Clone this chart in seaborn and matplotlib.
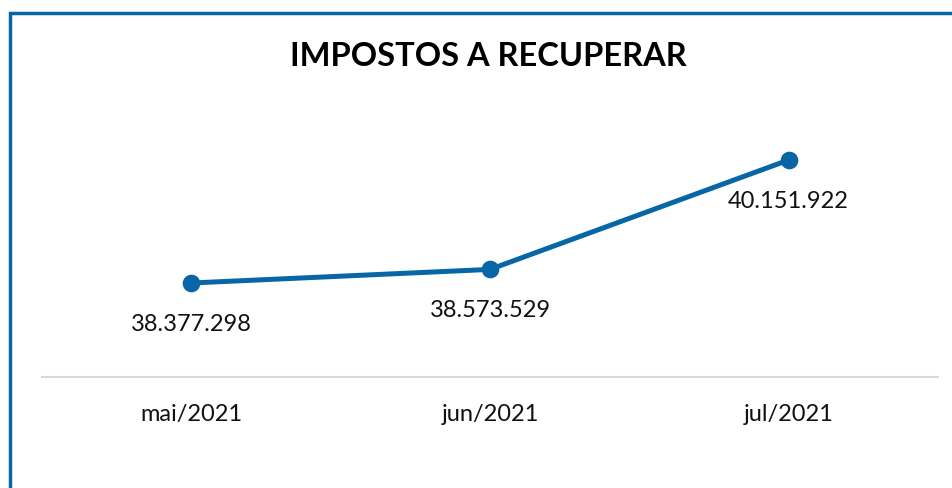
import matplotlib.pyplot as plt
import matplotlib as mpl
import seaborn as sns
from matplotlib.patches import Rectangle

months = ["mai/2021", "jun/2021", "jul/2021"]
values = [38377298, 38573529, 40151922]
labels = ["38.377.298", "38.573.529", "40.151.922"]

blue = "#0866a7"

sns.set_style("white")
plt.rcParams['font.family'] = ['Lato', 'DejaVu Sans']

fig = plt.figure(figsize=(9.52, 4.89), dpi=100)
ax = fig.add_axes([42 / 952, 1 - 378 / 489, 896 / 952, 258 / 489])

sns.pointplot(x=months, y=values, color=blue, linewidth=3.6, markersize=10,
              ax=ax)

for i, (v, t) in enumerate(zip(values, labels)):
    ax.annotate(t, (i, v), xytext=(0, -29), textcoords="offset points",
                ha="center", va="center", fontsize=17, color="#111111")

ax.set_xlim(-0.5, 2.5)
ax.set_ylim(37021066, 40743470)
ax.set_yticks([])
ax.set_xlabel("")
ax.set_ylabel("")
for s in ["left", "right", "top"]:
    ax.spines[s].set_visible(False)
ax.spines["bottom"].set_color("#d9d9d9")
ax.spines["bottom"].set_linewidth(1.5)
ax.tick_params(axis="x", length=0, pad=18.5, labelsize=17, labelcolor="#111111")

fig.text(488 / 952, 1 - 57 / 489, "IMPOSTOS A RECUPERAR", ha="center",
         va="center", fontsize=23.5, fontweight="bold", color="#000000")

# frame (only top and left edges visible)
fig.patches.append(Rectangle((9.5 / 952, -0.1), 1.1, 1 - 14 / 489 + 0.1,
                             transform=fig.transFigure, fill=False,
                             edgecolor=blue, linewidth=2.5))

fig.savefig("out.png", dpi=100)
